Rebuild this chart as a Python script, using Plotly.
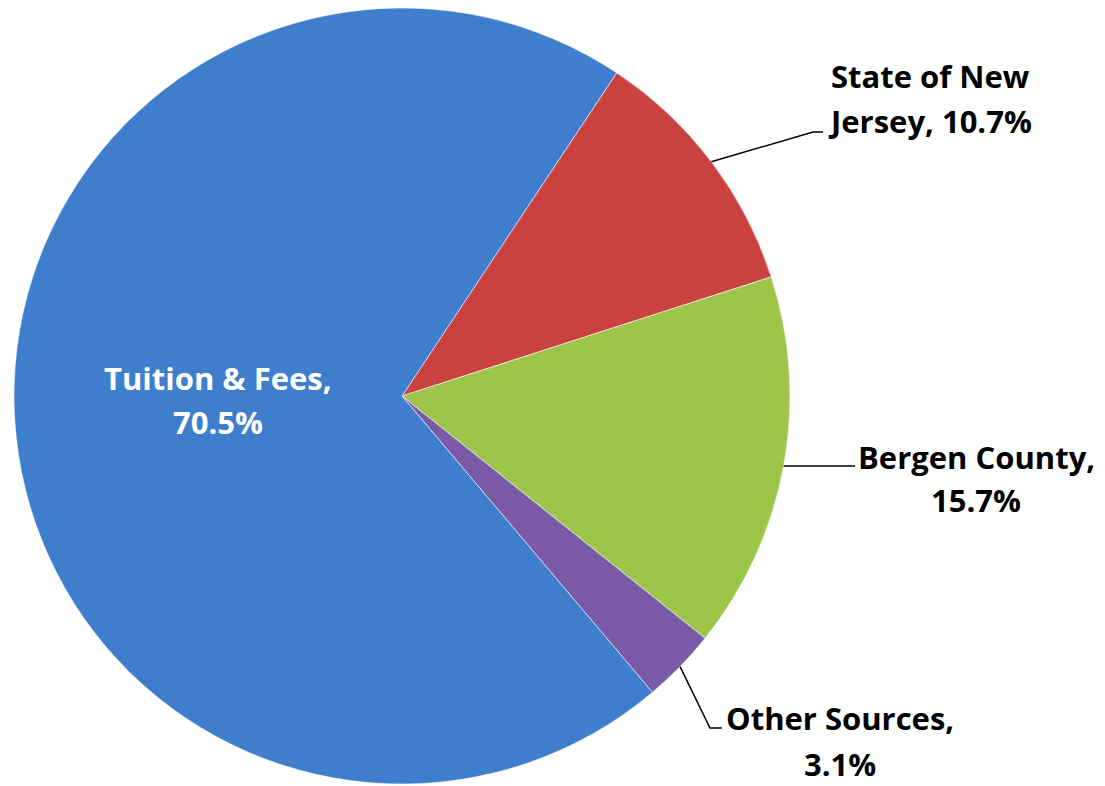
import math
import plotly.graph_objects as go

# ---- data ----
categories = ["State of New Jersey", "Bergen County", "Other Sources", "Tuition & Fees"]
label_lines = [["State of New", "Jersey, "], ["Bergen County,", ""], ["Other Sources,", ""], ["Tuition & Fees,", ""]]
values = [10.7, 15.7, 3.1, 70.5]
colors = ["#C9423F", "#9CC54A", "#7A5AA6", "#3E7ECD"]

# page body has an 8px default margin; size the figure to the visible window
OFF = 8
W, H = 1105 - OFF, 786 - OFF
CX, CY, R = 402, 396, 388   # target pixel positions in the window
ROT = 33.6

def px(x):
    return (x - OFF) / W

def py(y):
    return 1 - (y - OFF) / H

def clamp(v):
    return min(1.0, max(0.0, v))

fig = go.Figure()
fig.add_trace(go.Pie(
    labels=categories, values=values, sort=False, direction="clockwise",
    rotation=ROT, textinfo="none", showlegend=False,
    marker=dict(colors=colors, line=dict(color="rgba(255,255,255,0.55)", width=1)),
    domain=dict(x=[clamp(px(CX - R)), clamp(px(CX + R))],
                y=[clamp(py(CY + R)), clamp(py(CY - R))]),
    hoverinfo="label+percent",
))

total = sum(values)
mids = []
acc = 0.0
for v in values:
    mids.append(ROT + 360 * (acc + v / 2) / total)
    acc += v

def edge(i):
    a = math.radians(mids[i])
    return CX + R * math.sin(a), CY - R * math.cos(a)

# label layout: (center x, line1 y, line2 y, color)
label_pos = {
    0: (930, 76, 121, "black"),
    1: (976, 457, 500, "black"),
    2: (840, 718, 764, "black"),
    3: (218, 378, 422, "white"),
}
# leader line elbows and ends
leaders = {
    0: [(813, 132), (823, 132)],
    1: [(855, 466)],
    2: [(710, 728), (722, 728)],
}

shapes = []
for i, pts in leaders.items():
    x0, y0 = edge(i)
    path = "M %f %f" % (px(x0), py(y0))
    for (x, y) in pts:
        path += " L %f %f" % (px(x), py(y))
    shapes.append(dict(type="path", xref="paper", yref="paper", path=path,
                       line=dict(color="black", width=1.5)))

annotations = []
for i, (x, y1, y2, col) in label_pos.items():
    pct = "%.1f%%" % values[i]
    l1, l2 = label_lines[i]
    line2 = (l2 + pct) if l2 else pct
    for txt, yy in ((l1, y1), (line2, y2)):
        annotations.append(dict(x=px(x), y=py(yy), xref="paper", yref="paper",
                                text="<b>%s</b>" % txt, showarrow=False,
                                xanchor="center", yanchor="middle",
                                font=dict(family="Open Sans", size=31, color=col)))

fig.update_layout(
    width=W, height=H, margin=dict(l=0, r=0, t=0, b=0),
    paper_bgcolor="white", plot_bgcolor="white",
    shapes=shapes, annotations=annotations,
)
fig.write_html("out.html")
